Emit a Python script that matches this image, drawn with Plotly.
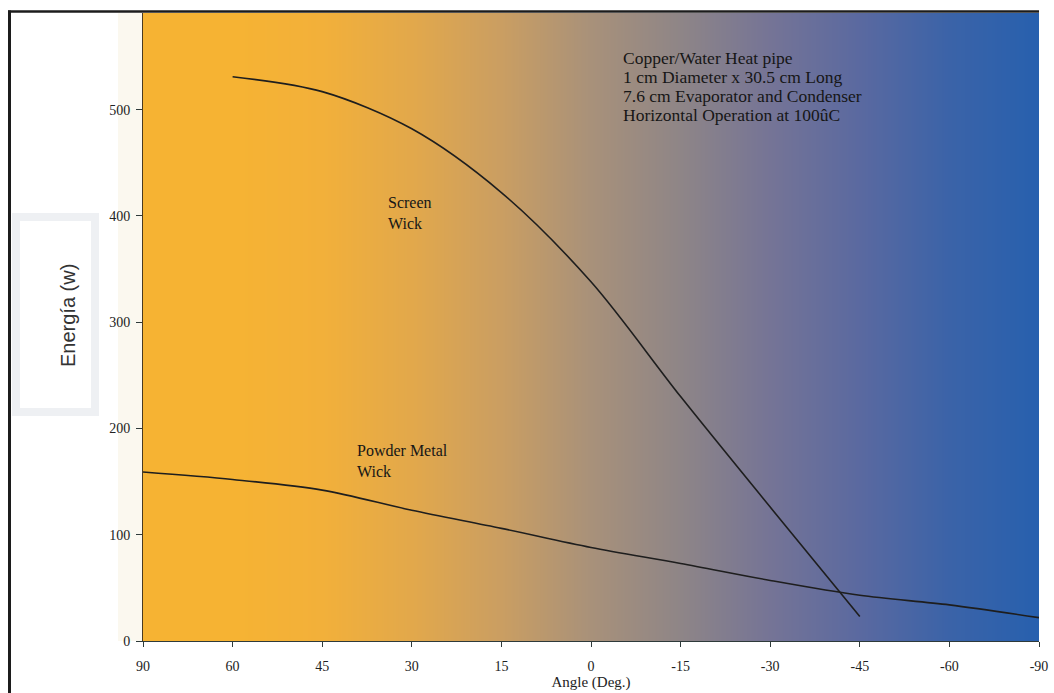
import plotly.graph_objects as go

# Tilt angle categories along the horizontal axis (deg)
angle_labels = ["90", "60", "45", "30", "15", "0", "-15", "-30", "-45", "-60", "-90"]

# Heat transport capacity (W)
screen_angles = ["60", "45", "30", "15", "0", "-15", "-30", "-45"]
screen_wick = [531, 517, 482, 422, 338, 230, 126, 23]

powder_angles = angle_labels
powder_wick = [159, 152, 142, 123, 106, 88, 73, 57, 43, 34, 22]

y_ticks = [0, 100, 200, 300, 400, 500, 600]

note_lines = [
    "Copper/Water Heat pipe",
    "1 cm Diameter x 30.5 cm Long",
    "7.6 cm Evaporator and Condenser",
    "Horizontal Operation at 100ûC",
]

Y_MAX = 591
W, H = 1054, 693
L, R, T, B = 143, 15, 13, 52

# background gradient from orange to blue across the plot
grad_scale = [
    [0.00, "#F6B333"], [0.10, "#F6B333"], [0.20, "#F2B03A"],
    [0.30, "#E2A84B"], [0.40, "#CA9E62"], [0.50, "#A8917A"],
    [0.60, "#8E8587"], [0.70, "#757496"], [0.80, "#5A69A0"],
    [0.90, "#3B63A8"], [1.00, "#2760AE"],
]
n = len(angle_labels)
grad_row = [i / (n - 1) for i in range(n)]

fig = go.Figure()
fig.add_trace(go.Heatmap(
    x=angle_labels, y=[0, Y_MAX], z=[grad_row, grad_row],
    colorscale=grad_scale, zmin=0, zmax=1, zsmooth="best",
    showscale=False, hoverinfo="skip",
))

line_style = dict(color="#1E1E1E", width=1.6, shape="spline", smoothing=0.9)
fig.add_trace(go.Scatter(x=screen_angles, y=screen_wick, mode="lines",
                         line=line_style, name="Screen Wick", hoverinfo="skip"))
fig.add_trace(go.Scatter(x=powder_angles, y=powder_wick, mode="lines",
                         line=line_style, name="Powder Metal Wick", hoverinfo="skip"))

serif = "Liberation Serif"
tick_font = dict(family=serif, size=14, color="#222222")

fig.update_xaxes(
    type="category", categoryorder="array", categoryarray=angle_labels,
    range=[0, n - 1], showgrid=False, zeroline=False, automargin=False,
    showline=True, linecolor="#2E3A3A", linewidth=1,
    ticks="outside", ticklen=5, tickcolor="#2E3A3A", tickfont=tick_font,
    ticklabelstandoff=7,
    title=dict(text="Angle (Deg.)", font=dict(family=serif, size=15, color="#222222"),
               standoff=2),
)
fig.update_yaxes(
    range=[0, Y_MAX], tickvals=y_ticks, showgrid=False, zeroline=False, automargin=False,
    showline=True, linecolor="#4A3A20", linewidth=1,
    ticks="outside", ticklen=6, tickcolor="#2E3A3A", tickfont=tick_font,
    ticklabelstandoff=3,
)

def px_x(p):
    return (p - L) / (W - L - R)

def px_y(p):
    return (H - B - p) / (H - T - B)

shapes = [
    # faint band next to the y tick labels
    dict(type="rect", xref="paper", yref="paper", x0=px_x(118), x1=px_x(143),
         y0=px_y(641), y1=px_y(13), fillcolor="#FBF8EF", line=dict(width=0), layer="below"),
    # page frame
    dict(type="line", xref="paper", yref="paper", x0=px_x(9.5), x1=px_x(9.5),
         y0=px_y(10.5), y1=px_y(700), line=dict(color="#1C1C1C", width=3)),
    dict(type="line", xref="paper", yref="paper", x0=px_x(8), x1=px_x(1039),
         y0=px_y(11.5), y1=px_y(11.5), line=dict(color="#1C1C1C", width=2.5)),
    # box around the vertical axis title
    dict(type="rect", xref="paper", yref="paper", x0=px_x(16), x1=px_x(95),
         y0=px_y(412), y1=px_y(217), fillcolor="white",
         line=dict(color="#EEF0F3", width=8)),
]

text_font = dict(family=serif, size=16, color="#161616")
annotations = [
    dict(xref="paper", yref="paper", x=px_x(55), y=px_y(316),
         text="Energía (w)", textangle=-90, showarrow=False,
         font=dict(family="Liberation Sans", size=20, color="#333333")),
    dict(xref="paper", yref="paper", x=px_x(386), y=px_y(192),
         text="Screen<br>Wick", showarrow=False, align="left",
         xanchor="left", yanchor="top", font=text_font),
    dict(xref="paper", yref="paper", x=px_x(355), y=px_y(440),
         text="Powder Metal<br>Wick", showarrow=False, align="left",
         xanchor="left", yanchor="top", font=text_font),
]
# one annotation per line keeps the tight line spacing of the note block
for i, line in enumerate(note_lines):
    annotations.append(dict(
        xref="paper", yref="paper", x=px_x(621), y=px_y(58 + 19 * i),
        text=line, showarrow=False, xanchor="left", yanchor="middle",
        font=dict(family=serif, size=17.5, color="#161616"),
    ))

fig.update_layout(
    width=W, height=H,
    margin=dict(l=L, r=R, t=T, b=B, pad=0),
    paper_bgcolor="white", plot_bgcolor="white",
    showlegend=False, shapes=shapes, annotations=annotations,
)

fig.write_html("out.html")
